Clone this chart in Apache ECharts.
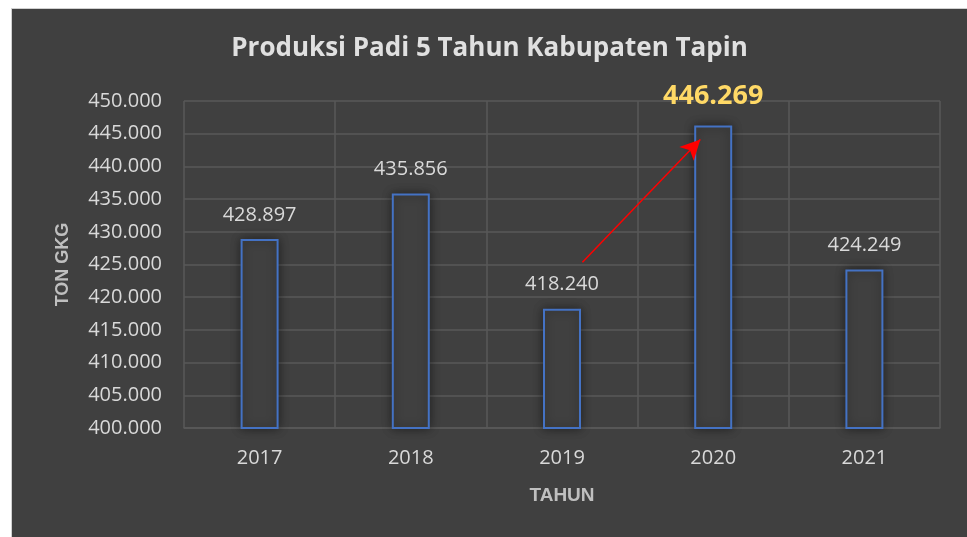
<!DOCTYPE html>
<html>
<head>
<meta charset="utf-8">
<script src="https://cdn.jsdelivr.net/npm/echarts@6/dist/echarts.min.js"></script>
<style>
  html, body { margin: 0; padding: 0; background: #ffffff; }
  #chart {
    position: absolute; left: 11px; top: 8px;
    width: 956px; height: 529px;
    background: #404040;
    border-left: 1px solid #d0d0d0; border-top: 1px solid #d0d0d0;
    box-sizing: border-box;
  }
</style>
</head>
<body>
<div id="chart"></div>
<script>
// data tahun dan produksi (ton GKG)
const years = ['2017', '2018', '2019', '2020', '2021'];
const produksi = [428897, 435856, 418240, 446269, 424249];
const highlightYear = '2020';

// panah merah dari 2019 ke 2020 (x = posisi kategori, y = ton)
const arrowFrom = [2.135, 425340];
const arrowTo = [2.915, 444120];

// format angka gaya Indonesia: 450.000
const fmt = v => String(Math.round(v)).replace(/\B(?=(\d{3})+(?!\d))/g, '.');

const chart = echarts.init(document.getElementById('chart'));

const barData = produksi.map((v, i) => {
  if (years[i] !== highlightYear) return v;
  return {
    value: v,
    label: { color: '#ffd966', fontSize: 27, fontWeight: 'bold', distance: 16 }
  };
});

chart.setOption({
  backgroundColor: '#404040',
  animation: false,
  title: {
    text: 'Produksi Padi 5 Tahun Kabupaten Tapin',
    left: 'center',
    top: 22,
    textStyle: { color: '#e0e0e0', fontSize: 26, fontWeight: 'bold', fontFamily: 'Open Sans' }
  },
  grid: { left: 172, right: 27, top: 92, bottom: 109 },
  xAxis: [{
    type: 'category',
    data: years,
    name: 'TAHUN',
    nameLocation: 'middle',
    nameGap: 58,
    nameTextStyle: { color: '#bfbfbf', fontSize: 19, fontWeight: 'bold', fontFamily: 'Liberation Sans' },
    axisLine: { show: true, lineStyle: { color: '#595959', width: 1.5 } },
    axisTick: { show: false },
    axisLabel: { color: '#d9d9d9', fontSize: 20, fontFamily: 'Open Sans', margin: 20 },
    splitLine: { show: true, lineStyle: { color: '#595959', width: 1.5 } }
  }, {
    // sumbu bantu untuk panah
    type: 'value', min: -0.5, max: 4.5, show: false
  }],
  yAxis: {
    type: 'value',
    min: 400000,
    max: 450000,
    interval: 5000,
    name: 'TON GKG',
    nameLocation: 'middle',
    nameGap: 112,
    nameTextStyle: { color: '#bfbfbf', fontSize: 18, fontWeight: 'bold', fontFamily: 'Liberation Sans' },
    axisLine: { show: false },
    axisTick: { show: false },
    axisLabel: { color: '#d9d9d9', fontSize: 20, fontFamily: 'Open Sans', margin: 22, formatter: fmt },
    splitLine: { show: true, lineStyle: { color: '#595959', width: 1.5 } }
  },
  series: [{
    type: 'bar',
    data: barData,
    barWidth: 38,
    itemStyle: {
      color: '#404040',
      borderColor: '#4472c4',
      borderWidth: 2,
      shadowBlur: 10,
      shadowColor: 'rgba(0,0,0,0.45)'
    },
    label: {
      show: true,
      position: 'top',
      distance: 14,
      color: '#d9d9d9',
      fontSize: 20,
      fontFamily: 'Open Sans',
      formatter: p => fmt(p.value)
    },
    z: 3
  }, {
    type: 'line',
    xAxisIndex: 1,
    data: [],
    silent: true,
    markLine: {
      silent: true,
      symbol: ['none', 'arrow'],
      symbolSize: [15, 20],
      label: { show: false },
      lineStyle: { color: '#ff0000', width: 1.5, type: 'solid' },
      data: [[{ coord: arrowFrom }, { coord: arrowTo }]]
    },
    z: 5
  }]
});
</script>
</body>
</html>
